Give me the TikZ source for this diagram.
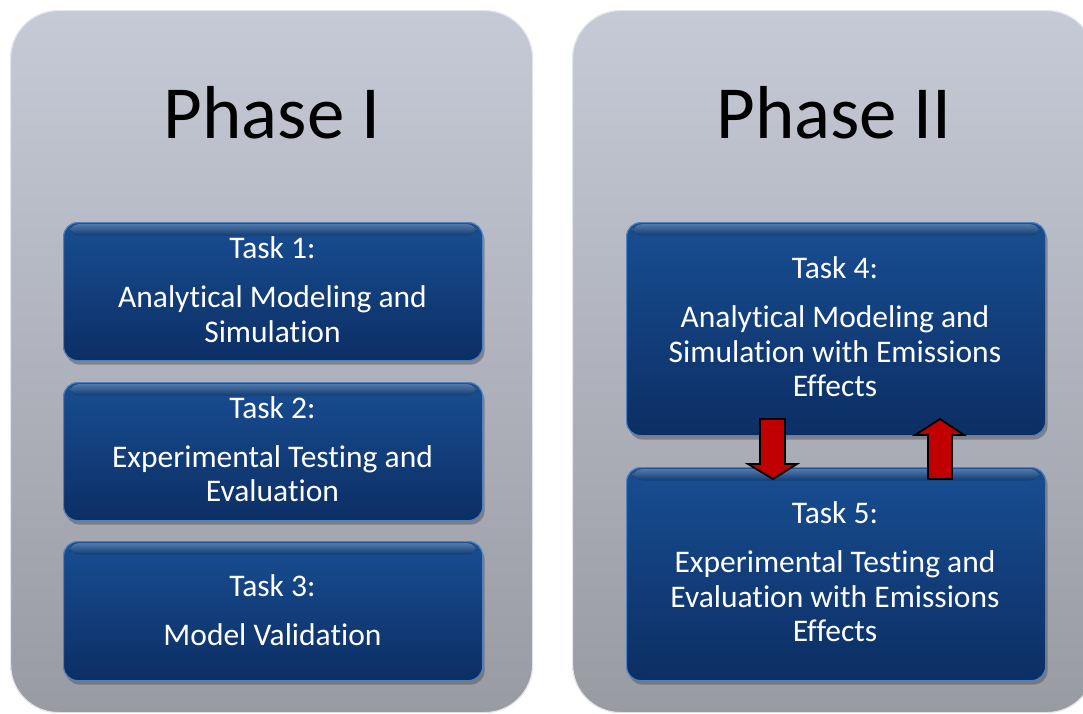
\documentclass[tikz,border=0pt]{standalone}
\usepackage{fontspec}
\setmainfont{Carlito}[RawFeature=-liga]
\usetikzlibrary{shadows}
\definecolor{panelTop}{HTML}{C6CAD6}
\definecolor{panelBot}{HTML}{999BA3}
\definecolor{panelRim}{HTML}{E2E4EA}
\definecolor{taskTop}{HTML}{184E92}
\definecolor{taskBot}{HTML}{0C2E64}
\definecolor{taskEdge}{HTML}{4F80C0}
\definecolor{taskGloss}{HTML}{6C9BD6}
\definecolor{flow}{HTML}{C00000}
\begin{document}
\begin{tikzpicture}[x=1pt,y=-1pt,
  panel/.style={rounded corners=48pt, top color=panelTop, bottom color=panelBot,
    draw=panelRim, line width=1.2pt, inner sep=0pt, anchor=north west},
  taskbox/.style={rounded corners=14pt, top color=taskTop, bottom color=taskBot,
    draw=taskEdge, line width=1.2pt, inner sep=0pt, anchor=north west,
    minimum width=419pt,
    drop shadow={shadow xshift=2pt, shadow yshift=-4pt, opacity=0.45, fill=black!70}},
  gloss/.style={rounded corners=10pt, top color=taskGloss, bottom color=taskTop, opacity=0.75},
  title/.style={font=\fontsize{75}{90}\selectfont, anchor=base, inner sep=0pt},
  tasktext/.style={text=white, font=\fontsize{31.5}{38}\selectfont, anchor=base, inner sep=0pt},
  flowarrow/.style={fill=flow, draw=black, line width=1.8pt, line join=miter}]

\useasboundingbox (0,0) rectangle (1083,713);
\clip (0,0) rectangle (1083,713);

% phase panels
\node[panel, minimum width=522pt, minimum height=702pt] (p1) at (10,10) {};
\node[panel, minimum width=522pt, minimum height=702pt] (p2) at (572,10) {};
\node[title] (p1title) at (272,138) {Phase I};
\node[title] (p2title) at (834,138) {Phase II};

% task boxes
\node[taskbox, minimum height=138pt] (t1) at (63,222) {};
\node[taskbox, minimum height=138pt] (t2) at (63,382) {};
\node[taskbox, minimum height=139pt] (t3) at (63,541) {};
\node[taskbox, minimum height=213pt] (t4) at (626,222) {};
\node[taskbox, minimum height=213pt] (t5) at (626,467) {};

% glossy band along the top of each box
\foreach \b in {t1,t2,t3,t4,t5}{
  \fill[gloss] ([xshift=6pt,yshift=-2pt]\b.north west) rectangle ([xshift=-6pt,yshift=-13pt]\b.north east);
}

% box texts
\node[tasktext] (t1a) at (272.5,258) {Task 1:};
\node[tasktext] (t1b) at (272.5,307) {Analytical Modeling and};
\node[tasktext] (t1c) at (272.5,342) {Simulation};

\node[tasktext] (t2a) at (272.5,418) {Task 2:};
\node[tasktext] (t2b) at (272.5,467) {Experimental Testing and};
\node[tasktext] (t2c) at (272.5,501) {Evaluation};

\node[tasktext] (t3a) at (272.5,596) {Task 3:};
\node[tasktext] (t3b) at (272.5,645) {Model Validation};

\node[tasktext] (t4a) at (835,278) {Task 4:};
\node[tasktext] (t4b) at (835,327) {Analytical Modeling and};
\node[tasktext] (t4c) at (835,362) {Simulation with Emissions};
\node[tasktext] (t4d) at (835,396) {Effects};

\node[tasktext] (t5a) at (835,523) {Task 5:};
\node[tasktext] (t5b) at (835,572) {Experimental Testing and};
\node[tasktext] (t5c) at (835,607) {Evaluation with Emissions};
\node[tasktext] (t5d) at (835,641) {Effects};

% block arrows between Task 4 and Task 5
\draw[flowarrow] (760,419) -- (785,419) -- (785,464) -- (797,464) -- (773,479)
  -- (748,464) -- (760,464) -- cycle;
\draw[flowarrow] (928,479) -- (952,479) -- (952,435) -- (964,435) -- (940,419)
  -- (915,435) -- (928,435) -- cycle;
\end{tikzpicture}
\end{document}
